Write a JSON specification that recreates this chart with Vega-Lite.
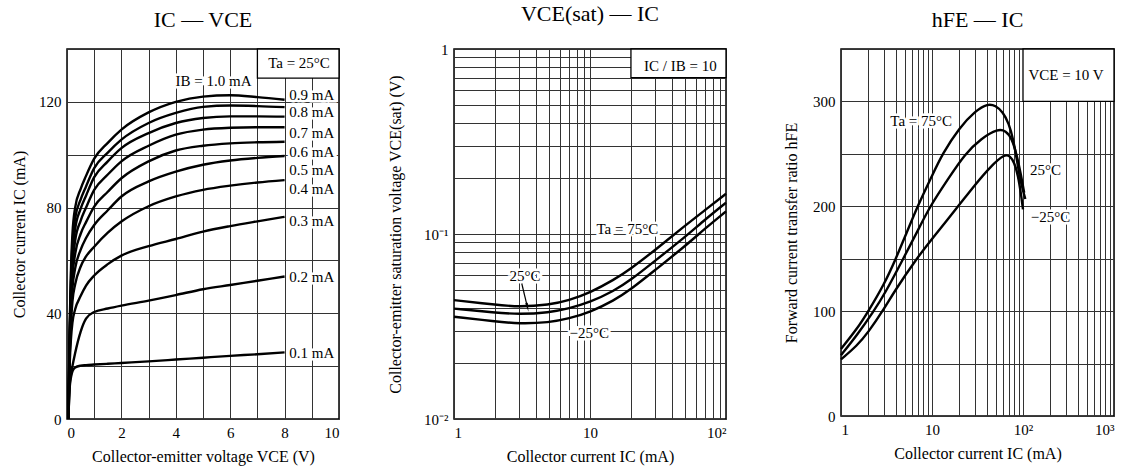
{
  "$schema": "https://vega.github.io/schema/vega-lite/v6.json",
  "background": "white",
  "padding": {"top": 2, "left": 10, "right": 5, "bottom": 5},
  "bounds": "flush",
  "spacing": 115,
  "config": {
    "font": "Liberation Serif",
    "view": {"stroke": "black", "strokeWidth": 1.5},
    "axis": {"labelFont": "Liberation Serif", "titleFont": "Liberation Serif", "labelFontSize": 15, "titleFontSize": 16, "titleFontWeight": "normal", "labelColor": "black", "titleColor": "black", "domain": false, "ticks": false, "gridColor": "#333333", "gridWidth": 1, "gridOpacity": 1, "labelPadding": 6},
    "axisX": {"titlePadding": 8},
    "axisY": {"titlePadding": 11},
    "title": {"font": "Liberation Serif", "fontSize": 22, "fontWeight": "normal", "color": "black", "offset": 16, "anchor": "middle", "frame": "group"},
    "text": {"font": "Liberation Serif", "fontSize": 15}
  },
  "datasets": {
    "ice": [
      {"ib":"1.0","vce":0.05,"ic":0},{"ib":"1.0","vce":0.1,"ic":36},{"ib":"1.0","vce":0.15,"ic":58},{"ib":"1.0","vce":0.2,"ic":70},{"ib":"1.0","vce":0.3,"ic":80},{"ib":"1.0","vce":0.5,"ic":87},{"ib":"1.0","vce":0.7,"ic":92},{"ib":"1.0","vce":1,"ic":98.5},{"ib":"1.0","vce":1.5,"ic":104.5},{"ib":"1.0","vce":2,"ic":109.5},{"ib":"1.0","vce":3,"ic":116},{"ib":"1.0","vce":4,"ic":120},{"ib":"1.0","vce":5,"ic":122},{"ib":"1.0","vce":6,"ic":122.5},{"ib":"1.0","vce":7,"ic":121.8},{"ib":"1.0","vce":8,"ic":120.8},
      {"ib":"0.9","vce":0.05,"ic":0},{"ib":"0.9","vce":0.1,"ic":34},{"ib":"0.9","vce":0.15,"ic":55},{"ib":"0.9","vce":0.2,"ic":66},{"ib":"0.9","vce":0.3,"ic":76},{"ib":"0.9","vce":0.5,"ic":83},{"ib":"0.9","vce":0.7,"ic":88},{"ib":"0.9","vce":1,"ic":94.9},{"ib":"0.9","vce":1.5,"ic":100.8},{"ib":"0.9","vce":2,"ic":105.7},{"ib":"0.9","vce":3,"ic":112},{"ib":"0.9","vce":4,"ic":115.8},{"ib":"0.9","vce":5,"ic":118.1},{"ib":"0.9","vce":6,"ic":118.6},{"ib":"0.9","vce":7,"ic":118.4},{"ib":"0.9","vce":8,"ic":118},
      {"ib":"0.8","vce":0.05,"ic":0},{"ib":"0.8","vce":0.1,"ic":32},{"ib":"0.8","vce":0.15,"ic":52},{"ib":"0.8","vce":0.2,"ic":62},{"ib":"0.8","vce":0.3,"ic":72},{"ib":"0.8","vce":0.5,"ic":79.5},{"ib":"0.8","vce":0.7,"ic":84.5},{"ib":"0.8","vce":1,"ic":91.5},{"ib":"0.8","vce":1.5,"ic":97.5},{"ib":"0.8","vce":2,"ic":102.5},{"ib":"0.8","vce":3,"ic":108.2},{"ib":"0.8","vce":4,"ic":112},{"ib":"0.8","vce":5,"ic":113.9},{"ib":"0.8","vce":6,"ic":114.5},{"ib":"0.8","vce":7,"ic":114.5},{"ib":"0.8","vce":8,"ic":114.4},
      {"ib":"0.7","vce":0.05,"ic":0},{"ib":"0.7","vce":0.1,"ic":30},{"ib":"0.7","vce":0.15,"ic":48},{"ib":"0.7","vce":0.2,"ic":58},{"ib":"0.7","vce":0.3,"ic":67.5},{"ib":"0.7","vce":0.5,"ic":75},{"ib":"0.7","vce":0.7,"ic":80},{"ib":"0.7","vce":1,"ic":86.7},{"ib":"0.7","vce":1.5,"ic":92.5},{"ib":"0.7","vce":2,"ic":97.5},{"ib":"0.7","vce":3,"ic":103.4},{"ib":"0.7","vce":4,"ic":107.6},{"ib":"0.7","vce":5,"ic":109.5},{"ib":"0.7","vce":6,"ic":110.2},{"ib":"0.7","vce":7,"ic":110.4},{"ib":"0.7","vce":8,"ic":110.4},
      {"ib":"0.6","vce":0.05,"ic":0},{"ib":"0.6","vce":0.1,"ic":28},{"ib":"0.6","vce":0.15,"ic":45},{"ib":"0.6","vce":0.2,"ic":54},{"ib":"0.6","vce":0.3,"ic":62.5},{"ib":"0.6","vce":0.5,"ic":70},{"ib":"0.6","vce":0.7,"ic":74.5},{"ib":"0.6","vce":1,"ic":80.4},{"ib":"0.6","vce":1.5,"ic":86},{"ib":"0.6","vce":2,"ic":91.1},{"ib":"0.6","vce":3,"ic":97.5},{"ib":"0.6","vce":4,"ic":101.6},{"ib":"0.6","vce":5,"ic":103.4},{"ib":"0.6","vce":6,"ic":104.3},{"ib":"0.6","vce":7,"ic":104.7},{"ib":"0.6","vce":8,"ic":104.9},
      {"ib":"0.5","vce":0.05,"ic":0},{"ib":"0.5","vce":0.1,"ic":26},{"ib":"0.5","vce":0.15,"ic":41},{"ib":"0.5","vce":0.2,"ic":49.5},{"ib":"0.5","vce":0.3,"ic":57},{"ib":"0.5","vce":0.5,"ic":64},{"ib":"0.5","vce":0.7,"ic":68.5},{"ib":"0.5","vce":1,"ic":73.4},{"ib":"0.5","vce":1.5,"ic":79},{"ib":"0.5","vce":2,"ic":84.2},{"ib":"0.5","vce":3,"ic":89.9},{"ib":"0.5","vce":4,"ic":93.6},{"ib":"0.5","vce":5,"ic":96.2},{"ib":"0.5","vce":6,"ic":97.8},{"ib":"0.5","vce":7,"ic":98.8},{"ib":"0.5","vce":8,"ic":99.5},
      {"ib":"0.4","vce":0.05,"ic":0},{"ib":"0.4","vce":0.1,"ic":24},{"ib":"0.4","vce":0.15,"ic":37},{"ib":"0.4","vce":0.2,"ic":44.5},{"ib":"0.4","vce":0.3,"ic":51},{"ib":"0.4","vce":0.5,"ic":57.6},{"ib":"0.4","vce":0.7,"ic":61.5},{"ib":"0.4","vce":1,"ic":65.2},{"ib":"0.4","vce":1.5,"ic":70.5},{"ib":"0.4","vce":2,"ic":74.7},{"ib":"0.4","vce":3,"ic":80.5},{"ib":"0.4","vce":4,"ic":84.2},{"ib":"0.4","vce":5,"ic":86.7},{"ib":"0.4","vce":6,"ic":88.3},{"ib":"0.4","vce":7,"ic":89.5},{"ib":"0.4","vce":8,"ic":90.4},
      {"ib":"0.3","vce":0.05,"ic":0},{"ib":"0.3","vce":0.1,"ic":21},{"ib":"0.3","vce":0.15,"ic":31},{"ib":"0.3","vce":0.2,"ic":36.5},{"ib":"0.3","vce":0.3,"ic":41.5},{"ib":"0.3","vce":0.5,"ic":46.5},{"ib":"0.3","vce":0.7,"ic":50.5},{"ib":"0.3","vce":1,"ic":54.3},{"ib":"0.3","vce":1.5,"ic":58.6},{"ib":"0.3","vce":2,"ic":61.8},{"ib":"0.3","vce":3,"ic":65.4},{"ib":"0.3","vce":4,"ic":68.1},{"ib":"0.3","vce":5,"ic":70.9},{"ib":"0.3","vce":6,"ic":73},{"ib":"0.3","vce":7,"ic":74.8},{"ib":"0.3","vce":8,"ic":76.5},
      {"ib":"0.2","vce":0.05,"ic":0},{"ib":"0.2","vce":0.1,"ic":13},{"ib":"0.2","vce":0.15,"ic":17},{"ib":"0.2","vce":0.2,"ic":20},{"ib":"0.2","vce":0.3,"ic":25},{"ib":"0.2","vce":0.5,"ic":33},{"ib":"0.2","vce":0.7,"ic":38},{"ib":"0.2","vce":1,"ic":40.5},{"ib":"0.2","vce":1.5,"ic":41.8},{"ib":"0.2","vce":2,"ic":42.9},{"ib":"0.2","vce":3,"ic":44.8},{"ib":"0.2","vce":4,"ic":46.9},{"ib":"0.2","vce":5,"ic":49.1},{"ib":"0.2","vce":6,"ic":50.7},{"ib":"0.2","vce":7,"ic":52.3},{"ib":"0.2","vce":8,"ic":53.9},
      {"ib":"0.1","vce":0.05,"ic":0},{"ib":"0.1","vce":0.1,"ic":12},{"ib":"0.1","vce":0.15,"ic":16},{"ib":"0.1","vce":0.2,"ic":18},{"ib":"0.1","vce":0.3,"ic":19.5},{"ib":"0.1","vce":0.5,"ic":20.2},{"ib":"0.1","vce":0.7,"ic":20.4},{"ib":"0.1","vce":1,"ic":20.6},{"ib":"0.1","vce":1.5,"ic":20.9},{"ib":"0.1","vce":2,"ic":21.2},{"ib":"0.1","vce":3,"ic":21.8},{"ib":"0.1","vce":4,"ic":22.5},{"ib":"0.1","vce":5,"ic":23.2},{"ib":"0.1","vce":6,"ic":23.9},{"ib":"0.1","vce":7,"ic":24.5},{"ib":"0.1","vce":8,"ic":25.2}
    ],
    "iceLabels": [
      {"vce":5.39,"ic":128,"label":"IB = 1.0 mA"},
      {"vce":9,"ic":122.7,"label":"0.9 mA"},
      {"vce":9,"ic":116,"label":"0.8 mA"},
      {"vce":9,"ic":108.4,"label":"0.7 mA"},
      {"vce":9,"ic":101.1,"label":"0.6 mA"},
      {"vce":9,"ic":94.2,"label":"0.5 mA"},
      {"vce":9,"ic":87,"label":"0.4 mA"},
      {"vce":9,"ic":74.8,"label":"0.3 mA"},
      {"vce":9,"ic":53.7,"label":"0.2 mA"},
      {"vce":9,"ic":25,"label":"0.1 mA"}
    ],
    "sat": [
      {"ta":"75°C","ic":1,"v":0.0439},{"ta":"75°C","ic":2,"v":0.0415},{"ta":"75°C","ic":3,"v":0.0403},{"ta":"75°C","ic":5,"v":0.0414},{"ta":"75°C","ic":7,"v":0.0438},{"ta":"75°C","ic":10,"v":0.0482},{"ta":"75°C","ic":15,"v":0.0565},{"ta":"75°C","ic":20,"v":0.0650},{"ta":"75°C","ic":30,"v":0.0817},{"ta":"75°C","ic":50,"v":0.111},{"ta":"75°C","ic":70,"v":0.1345},{"ta":"75°C","ic":100,"v":0.165},
      {"ta":"25°C","ic":1,"v":0.0395},{"ta":"25°C","ic":2,"v":0.0376},{"ta":"25°C","ic":3,"v":0.0368},{"ta":"25°C","ic":5,"v":0.0376},{"ta":"25°C","ic":7,"v":0.0396},{"ta":"25°C","ic":10,"v":0.0428},{"ta":"25°C","ic":15,"v":0.0492},{"ta":"25°C","ic":20,"v":0.0565},{"ta":"25°C","ic":30,"v":0.0715},{"ta":"25°C","ic":50,"v":0.0964},{"ta":"25°C","ic":70,"v":0.1195},{"ta":"25°C","ic":100,"v":0.1476},
      {"ta":"-25°C","ic":1,"v":0.0357},{"ta":"-25°C","ic":2,"v":0.0337},{"ta":"-25°C","ic":3,"v":0.0327},{"ta":"-25°C","ic":5,"v":0.0332},{"ta":"-25°C","ic":7,"v":0.0349},{"ta":"-25°C","ic":10,"v":0.0378},{"ta":"-25°C","ic":15,"v":0.0437},{"ta":"-25°C","ic":20,"v":0.0502},{"ta":"-25°C","ic":30,"v":0.0637},{"ta":"-25°C","ic":50,"v":0.0859},{"ta":"-25°C","ic":70,"v":0.107},{"ta":"-25°C","ic":100,"v":0.1325}
    ],
    "satLabels": [
      {"ic":18.8,"v":0.1069,"label":"Ta = 75°C"},
      {"ic":3.33,"v":0.0593,"label":"25°C"},
      {"ic":9.86,"v":0.029,"label":"−25°C"}
    ],
    "hfe": [
      {"ta":"75°C","ic":1,"h":64},{"ta":"75°C","ic":1.5,"h":83},{"ta":"75°C","ic":2,"h":100},{"ta":"75°C","ic":3,"h":126},{"ta":"75°C","ic":4,"h":150},{"ta":"75°C","ic":5,"h":170},{"ta":"75°C","ic":7,"h":201},{"ta":"75°C","ic":10,"h":229},{"ta":"75°C","ic":13,"h":250},{"ta":"75°C","ic":20,"h":275},{"ta":"75°C","ic":30,"h":291},{"ta":"75°C","ic":41,"h":298},{"ta":"75°C","ic":50,"h":296},{"ta":"75°C","ic":60,"h":290},{"ta":"75°C","ic":70,"h":279},{"ta":"75°C","ic":78,"h":264},{"ta":"75°C","ic":85,"h":246},{"ta":"75°C","ic":92,"h":228},{"ta":"75°C","ic":100,"h":215},{"ta":"75°C","ic":106,"h":207},
      {"ta":"25°C","ic":1,"h":58},{"ta":"25°C","ic":1.5,"h":77},{"ta":"25°C","ic":2.29,"h":100},{"ta":"25°C","ic":3,"h":116},{"ta":"25°C","ic":4.83,"h":150},{"ta":"25°C","ic":7,"h":177},{"ta":"25°C","ic":9.5,"h":200},{"ta":"25°C","ic":15,"h":226},{"ta":"25°C","ic":23,"h":250},{"ta":"25°C","ic":35,"h":265},{"ta":"25°C","ic":53,"h":274},{"ta":"25°C","ic":65,"h":272},{"ta":"25°C","ic":75,"h":265},{"ta":"25°C","ic":85,"h":250},{"ta":"25°C","ic":95,"h":230},{"ta":"25°C","ic":103,"h":213},
      {"ta":"-25°C","ic":1,"h":54},{"ta":"-25°C","ic":1.5,"h":67},{"ta":"-25°C","ic":2,"h":80},{"ta":"-25°C","ic":2.87,"h":100},{"ta":"-25°C","ic":4,"h":121},{"ta":"-25°C","ic":6.76,"h":150},{"ta":"-25°C","ic":10,"h":169},{"ta":"-25°C","ic":19.4,"h":200},{"ta":"-25°C","ic":30,"h":221},{"ta":"-25°C","ic":44,"h":238},{"ta":"-25°C","ic":63,"h":250},{"ta":"-25°C","ic":72,"h":248},{"ta":"-25°C","ic":80,"h":242},{"ta":"-25°C","ic":88,"h":230},{"ta":"-25°C","ic":95,"h":212},{"ta":"-25°C","ic":100,"h":197}
    ],
    "hfeLabels": [
      {"ic":7.6,"h":281,"label":"Ta = 75°C"},
      {"ic":177,"h":235,"label":"25°C"},
      {"ic":201,"h":190,"label":"−25°C"}
    ]
  },
  "hconcat": [
    {
      "width": 272,
      "height": 370,
      "title": {"text": "IC — VCE"},
      "encoding": {
        "x": {"field": "vce", "type": "quantitative", "scale": {"domain": [0, 10], "nice": false},
              "axis": {"values": [0,1,2,3,4,5,6,7,8,9,10], "labelExpr": "datum.value % 2 === 0 ? datum.label : ''", "title": "Collector-emitter voltage  VCE  (V)"}},
        "y": {"field": "ic", "type": "quantitative", "scale": {"domain": [0, 140], "nice": false},
              "axis": {"values": [0,20,40,60,80,100,120,140], "labelExpr": "datum.value % 40 === 0 ? datum.label : ''", "title": "Collector current  IC  (mA)"}}
      },
      "layer": [
        {"data": {"name": "ice"}, "mark": {"type": "line", "color": "black", "strokeWidth": 2.4, "interpolate": "monotone"},
         "encoding": {"detail": {"field": "ib"}}},
        {"data": {"name": "iceLabels"}, "mark": {"type": "text", "stroke": "white", "strokeWidth": 5, "fill": "white", "baseline": "middle"},
         "encoding": {"text": {"field": "label"}}},
        {"data": {"name": "iceLabels"}, "mark": {"type": "text", "fill": "black", "baseline": "middle"},
         "encoding": {"text": {"field": "label"}}},
        {"data": {"values": [{"vce": 7, "vce2": 10, "ic": 129, "ic2": 140}]}, "mark": {"type": "rect", "fill": "white", "stroke": "black", "strokeWidth": 1.3},
         "encoding": {"x2": {"field": "vce2"}, "y2": {"field": "ic2"}}},
        {"data": {"values": [{"vce": 8.53, "ic": 134.7, "label": "Ta = 25°C"}]}, "mark": {"type": "text", "fill": "black", "baseline": "middle"},
         "encoding": {"text": {"field": "label"}}}
      ]
    },
    {
      "width": 272,
      "height": 370,
      "title": {"text": "VCE(sat) — IC"},
      "encoding": {
        "x": {"field": "ic", "type": "quantitative", "scale": {"type": "log", "domain": [1, 100], "nice": false},
              "axis": {"values": [1,2,3,4,5,6,7,8,9,10,20,30,40,50,60,70,80,90,100], "labelExpr": "datum.value === 1 ? '1' : datum.value === 10 ? '10' : datum.value === 100 ? '10²' : ''", "title": "Collector current  IC  (mA)"}},
        "y": {"field": "v", "type": "quantitative", "scale": {"type": "log", "domain": [0.01, 1], "nice": false},
              "axis": {"values": [0.01,0.02,0.03,0.04,0.05,0.06,0.07,0.08,0.09,0.1,0.2,0.3,0.4,0.5,0.6,0.7,0.8,0.9,1], "labelExpr": "datum.value === 1 ? '1' : datum.value === 0.1 ? '10⁻¹' : datum.value === 0.01 ? '10⁻²' : ''", "title": "Collector-emitter saturation voltage  VCE(sat)  (V)", "titlePadding": 20}}
      },
      "layer": [
        {"data": {"name": "sat"}, "mark": {"type": "line", "color": "black", "strokeWidth": 2.4, "interpolate": "basis"},
         "encoding": {"detail": {"field": "ta"}}},
        {"data": {"name": "satLabels"}, "mark": {"type": "text", "stroke": "white", "strokeWidth": 5, "fill": "white", "baseline": "middle"},
         "encoding": {"text": {"field": "label"}}},
        {"data": {"name": "satLabels"}, "mark": {"type": "text", "fill": "black", "baseline": "middle"},
         "encoding": {"text": {"field": "label"}}},
        {"data": {"values": [{"ic": 3.15, "v": 0.054}, {"ic": 3.47, "v": 0.0401}]}, "mark": {"type": "line", "color": "black", "strokeWidth": 1.2},
         "encoding": {}},
        {"data": {"values": [{"ic": 3.47, "v": 0.0401}]}, "mark": {"type": "point", "shape": "M0,1L-0.3,-1L0.3,-1Z", "filled": true, "color": "black", "size": 80, "angle": -13, "opacity": 1},
         "encoding": {}},
        {"data": {"values": [{"ic": 20, "ic2": 100, "v": 0.7, "v2": 1}]}, "mark": {"type": "rect", "fill": "white", "stroke": "black", "strokeWidth": 1.3},
         "encoding": {"x2": {"field": "ic2"}, "y2": {"field": "v2"}}},
        {"data": {"values": [{"ic": 46.2, "v": 0.813, "label": "IC / IB = 10"}]}, "mark": {"type": "text", "fill": "black", "baseline": "middle"},
         "encoding": {"text": {"field": "label"}}}
      ]
    },
    {
      "width": 273,
      "height": 367,
      "title": {"text": "hFE — IC"},
      "encoding": {
        "x": {"field": "ic", "type": "quantitative", "scale": {"type": "log", "domain": [1, 1000], "nice": false},
              "axis": {"values": [1,2,3,4,5,6,7,8,9,10,20,30,40,50,60,70,80,90,100,200,300,400,500,600,700,800,900,1000], "labelExpr": "datum.value === 1 ? '1' : datum.value === 10 ? '10' : datum.value === 100 ? '10²' : datum.value === 1000 ? '10³' : ''", "title": "Collector current  IC  (mA)"}},
        "y": {"field": "h", "type": "quantitative", "scale": {"domain": [0, 350], "nice": false},
              "axis": {"values": [0,50,100,150,200,250,300,350], "labelExpr": "datum.value % 100 === 0 ? datum.label : ''", "title": "Forward current transfer ratio  hFE", "titlePadding": 13}}
      },
      "layer": [
        {"data": {"name": "hfe"}, "mark": {"type": "line", "color": "black", "strokeWidth": 2.4, "interpolate": "basis"},
         "encoding": {"detail": {"field": "ta"}}},
        {"data": {"name": "hfeLabels"}, "mark": {"type": "text", "stroke": "white", "strokeWidth": 5, "fill": "white", "baseline": "middle"},
         "encoding": {"text": {"field": "label"}}},
        {"data": {"name": "hfeLabels"}, "mark": {"type": "text", "fill": "black", "baseline": "middle"},
         "encoding": {"text": {"field": "label"}}},
        {"data": {"values": [{"ic": 100, "ic2": 1000, "h": 300, "h2": 350}]}, "mark": {"type": "rect", "fill": "white", "stroke": "black", "strokeWidth": 1.3},
         "encoding": {"x2": {"field": "ic2"}, "y2": {"field": "h2"}}},
        {"data": {"values": [{"ic": 297, "h": 325.4, "label": "VCE = 10 V"}]}, "mark": {"type": "text", "fill": "black", "baseline": "middle"},
         "encoding": {"text": {"field": "label"}}}
      ]
    }
  ]
}
